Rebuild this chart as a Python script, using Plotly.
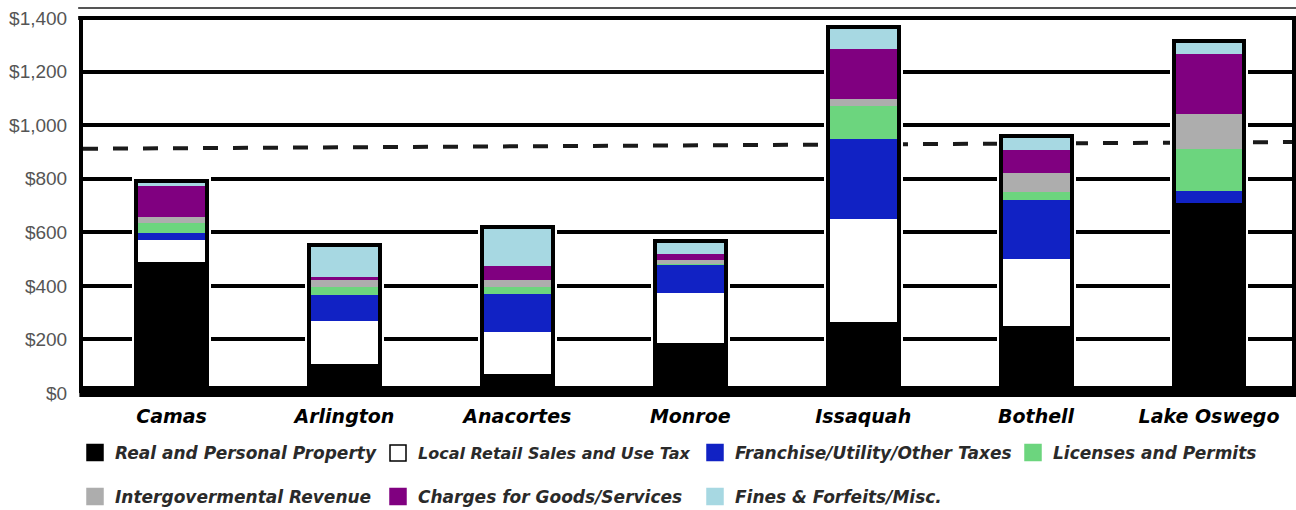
import plotly.graph_objects as go

# ---------------- data ----------------
cities = ["Camas", "Arlington", "Anacortes", "Monroe", "Issaquah", "Bothell", "Lake Oswego"]

real_personal_property = [488, 105, 70, 186, 265, 249, 710]
local_retail_sales_tax = [85, 167, 161, 191, 387, 255, 0]
franchise_utility_other = [28, 96, 142, 103, 300, 218, 47]
licenses_permits = [36, 31, 25, 4, 122, 29, 155]
intergovernmental_revenue = [22, 23, 24, 13, 25, 72, 131]
charges_goods_services = [114, 14, 54, 23, 186, 85, 226]
fines_forfeits_misc = [20, 116, 145, 47, 80, 52, 46]

avg_line = [912, 937]  # dashed reference line, left end / right end

y_ticks = [0, 200, 400, 600, 800, 1000, 1200, 1400]

series = [
    ("Real and Personal Property", real_personal_property, "#000000", "#000000"),
    ("Local Retail Sales and Use Tax", local_retail_sales_tax, "#ffffff", "#000000"),
    ("Franchise/Utility/Other Taxes", franchise_utility_other, "#1122c4", "#1122c4"),
    ("Licenses and Permits", licenses_permits, "#6cd57e", "#6cd57e"),
    ("Intergovermental Revenue", intergovernmental_revenue, "#adadad", "#adadad"),
    ("Charges for Goods/Services", charges_goods_services, "#800080", "#800080"),
    ("Fines & Forfeits/Misc.", fines_forfeits_misc, "#a7d8e2", "#a7d8e2"),
]

totals = [sum(v) for v in zip(*[s[1] for s in series])]

# ---------------- geometry / style ----------------
L, R, T, B = 83, 4, 18, 117
W, H = 1296, 510
pw, ph = W - L - R, H - T - B
cat_range = [-0.512, 6.48]
bar_w = 0.41

fig = go.Figure()

# dashed reference line (beneath bars)
fig.add_trace(go.Scatter(
    x=[0, 1], y=avg_line, mode="lines", xaxis="x", yaxis="y",
    line=dict(color="#1a1a1a", width=4, dash="15px,15px"),
    showlegend=False, hoverinfo="skip"))

# white halo under bars (creates the gap between gridlines and bars)
fig.add_trace(go.Bar(
    x=cities, y=totals, width=bar_w, xaxis="x2", yaxis="y",
    marker=dict(color="#ffffff", line=dict(color="#ffffff", width=8)),
    showlegend=False, hoverinfo="skip"))

# stacked segments
for name, vals, col, lcol in series:
    fig.add_trace(go.Bar(
        x=cities, y=vals, width=bar_w, name=name, xaxis="x3", yaxis="y",
        marker=dict(color=col, line=dict(color=lcol, width=1)),
        showlegend=False))

# outer outline of each stack
fig.add_trace(go.Bar(
    x=cities, y=totals, width=bar_w, xaxis="x4", yaxis="y",
    marker=dict(color="rgba(0,0,0,0)", line=dict(color="#000000", width=4)),
    showlegend=False, hoverinfo="skip"))

# legend entries (one legend per entry, laid out as a grid)
leg_names = ["legend", "legend2", "legend3", "legend4", "legend5", "legend6", "legend7"]
col_left_px = [87, 390, 707, 1025]
row_y_px = [453, 497]
grid = [(0, 0), (0, 1), (0, 2), (0, 3), (1, 0), (1, 1), (1, 2)]
leg_font_size = [17, 16, 17, 17, 17, 17, 17]
legend_layouts = {}
for (name, vals, col, lcol), lg, (r, c), fs in zip(series, leg_names, grid, leg_font_size):
    fig.add_trace(go.Scatter(
        x=[None], y=[None], mode="markers", name=name, xaxis="x", yaxis="y",
        marker=dict(symbol="square", size=16, color=col, line=dict(color=lcol, width=1.5)),
        legend=lg, showlegend=True))
    box_left = col_left_px[c] - 12
    legend_layouts[lg] = dict(
        x=(box_left - L) / pw, xanchor="left",
        y=(H - B - row_y_px[r]) / ph, yanchor="middle",
        orientation="h", bgcolor="rgba(0,0,0,0)", borderwidth=0,
        font=dict(family="DejaVu Sans", size=fs, weight="bold", style="italic", color="#2a2a2a"),
    )

cat_axis = dict(type="category", categoryarray=cities, categoryorder="array",
                range=cat_range, showgrid=False, zeroline=False, showline=False,
                ticks="", fixedrange=True)

fig.update_layout(
    width=W, height=H,
    margin=dict(l=L, r=R, t=T, b=B, pad=0, autoexpand=False),
    paper_bgcolor="#ffffff", plot_bgcolor="#ffffff",
    barmode="stack",
    showlegend=True,
    xaxis=dict(range=[0, 1], visible=False, fixedrange=True),
    xaxis2=dict(cat_axis, overlaying="x", showticklabels=True,
                tickfont=dict(family="DejaVu Sans", size=19, weight="bold", style="italic", color="#000000"),
                ticklabelstandoff=10),
    xaxis3=dict(cat_axis, overlaying="x", showticklabels=False),
    xaxis4=dict(cat_axis, overlaying="x", showticklabels=False),
    yaxis=dict(range=[0, 1400], tickvals=y_ticks, tickformat="$,.0f",
               showgrid=True, gridcolor="#000000", gridwidth=3.5,
               showline=True, linecolor="#000000", linewidth=4, mirror=True,
               zeroline=False, ticks="", ticklabelstandoff=8,
               tickfont=dict(family="Liberation Sans", size=19, color="#555555"),
               fixedrange=True),
    shapes=[
        # top border
        dict(type="line", xref="paper", yref="paper", x0=-0.004, x1=1.004, y0=1, y1=1,
             line=dict(color="#000000", width=4), layer="above"),
        # thin rule above chart
        dict(type="line", xref="paper", yref="paper", x0=-0.004, x1=1.004,
             y0=(H - B - 8) / ph, y1=(H - B - 8) / ph,
             line=dict(color="#555555", width=2), layer="above"),
        # heavy base band
        dict(type="rect", xref="paper", yref="paper", x0=-0.003, x1=1.004,
             y0=(H - B - 397) / ph, y1=(H - B - 386) / ph,
             line=dict(width=0), fillcolor="#000000", layer="above"),
    ],
    **legend_layouts,
)

fig.write_html("out.html", config={"displayModeBar": False})
